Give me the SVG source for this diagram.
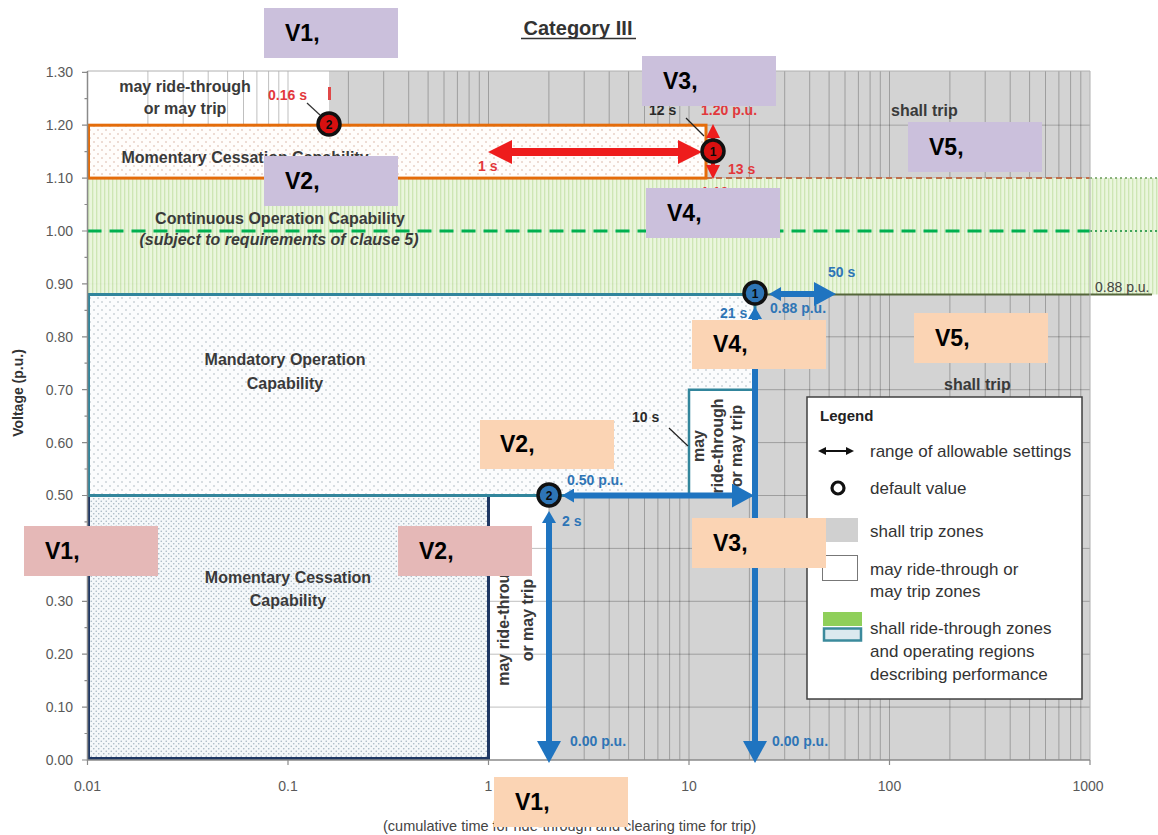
<svg xmlns="http://www.w3.org/2000/svg" width="1158" height="835" viewBox="0 0 1158 835">
<style>
text{font-family:"Liberation Sans",Arial,sans-serif}
.lbl{font-weight:bold;font-size:16px;fill:#3a3a3a}
.tick{font-size:14px;fill:#595959}
.blue{font-weight:bold;font-size:14px;fill:#2e75b6}
.red{font-weight:bold;font-size:14px;fill:#e2383c}
.blk{font-weight:bold;font-size:14px;fill:#2a2a2a}
.leg{font-size:17px;fill:#333}
.vb{font-weight:bold;font-size:23px;fill:#000}
.purple{fill:#cbc0dc}
.peach{fill:#fbd4b4}
.pink{fill:#e5b8b7}
.gray{fill:#d3d3d3}
.grid{fill:none;stroke:#000;stroke-opacity:.25;stroke-width:1}
.bluearrow{stroke:#1f74c0;stroke-width:6;fill:none}
.mk-b{fill:#2e75b6;stroke:#111;stroke-width:3.5}
.mk-r{fill:#d81010;stroke:#111;stroke-width:3.5}
.mknum{font-weight:bold;font-size:12px;fill:#0a0a0a;text-anchor:middle}
</style>
<defs>
<pattern id="pMO" width="8" height="8" patternUnits="userSpaceOnUse"><rect width="8" height="8" fill="#fbfcfd"/><circle cx="2" cy="2" r="0.8" fill="#a9b6bd"/><circle cx="6" cy="6" r="0.8" fill="#a9b6bd"/></pattern>
<pattern id="pMC" width="5" height="5" patternUnits="userSpaceOnUse"><rect width="5" height="5" fill="#f5f8fa"/><circle cx="1.25" cy="1.25" r="0.8" fill="#a6b6c2"/><circle cx="3.75" cy="3.75" r="0.8" fill="#a6b6c2"/></pattern>
<pattern id="pOr" width="8" height="8" patternUnits="userSpaceOnUse"><rect width="8" height="8" fill="#fffdfb"/><circle cx="2" cy="2" r="0.8" fill="#d6b2a4"/><circle cx="6" cy="6" r="0.8" fill="#d6b2a4"/></pattern>
<pattern id="pGr" width="4" height="4" patternUnits="userSpaceOnUse"><rect width="4" height="4" fill="#e8f5da"/><rect width="1.3" height="4" fill="#c9e4ae"/></pattern>
<marker id="ahB" viewBox="0 0 22 24" refX="3" refY="12" markerWidth="22" markerHeight="24" markerUnits="userSpaceOnUse" orient="auto-start-reverse"><path d="M0 0L22 12L0 24Z" fill="#1f74c0"/></marker>
<marker id="ahBs" viewBox="0 0 12 14" refX="2" refY="7" markerWidth="12" markerHeight="14" markerUnits="userSpaceOnUse" orient="auto-start-reverse"><path d="M0 0L12 7L0 14Z" fill="#1f74c0"/></marker>
<marker id="ahR" viewBox="0 0 24 24" refX="3" refY="12" markerWidth="24" markerHeight="24" markerUnits="userSpaceOnUse" orient="auto-start-reverse"><path d="M0 0L24 12L0 24Z" fill="#ee1c1c"/></marker>
<marker id="ahRs" viewBox="0 0 14 14" refX="2" refY="7" markerWidth="14" markerHeight="14" markerUnits="userSpaceOnUse" orient="auto-start-reverse"><path d="M0 0L14 7L0 14Z" fill="#ee1c1c"/></marker>
<marker id="ahK" viewBox="0 0 8 8" refX="1" refY="4" markerWidth="8" markerHeight="8" markerUnits="userSpaceOnUse" orient="auto-start-reverse"><path d="M0 0L8 4L0 8Z" fill="#111"/></marker>
</defs>
<rect width="1158" height="835" fill="#fff"/>

<g id="title"><text x="578" y="35" text-anchor="middle" font-size="20" font-weight="bold" fill="#333">Category III</text><line x1="521" y1="38.5" x2="636" y2="38.5" stroke="#333" stroke-width="1.5"/></g>

<g id="shall-trip-zones">
<rect class="gray" x="329" y="71" width="761" height="54.2"/>
<rect class="gray" x="706" y="125.2" width="384" height="52.9"/>
<rect class="gray" x="755" y="294.5" width="335" height="465.5"/>
<rect class="gray" x="549" y="495.5" width="206" height="264.5"/>
</g>

<g id="grid">
<path class="grid" d="M147.9 71V760M183.2 71V760M208.2 71V760M227.6 71V760M243.5 71V760M256.9 71V760M268.6 71V760M278.8 71V760M348.4 71V760M383.7 71V760M408.7 71V760M428.1 71V760M444 71V760M457.4 71V760M469.1 71V760M479.3 71V760M548.9 71V760M584.2 71V760M609.2 71V760M628.6 71V760M644.5 71V760M657.9 71V760M669.6 71V760M679.8 71V760M749.4 71V760M784.7 71V760M809.7 71V760M829.1 71V760M845 71V760M858.4 71V760M870.1 71V760M880.3 71V760M949.9 71V760M985.2 71V760M1010.2 71V760M1029.6 71V760M1045.5 71V760M1058.9 71V760M1070.6 71V760M1080.8 71V760"/>
<path class="grid" stroke-opacity=".4" d="M288 71V760M488.5 71V760M689 71V760M889.5 71V760"/>
<path class="grid" d="M87.5 707.1H1090M87.5 654.2H1090M87.5 601.3H1090M87.5 548.4H1090M87.5 495.5H1090M87.5 442.6H1090M87.5 389.7H1090M87.5 336.8H1090M87.5 283.9H1090M87.5 231H1090M87.5 178.1H1090M87.5 125.2H1090"/>
</g>

<g id="continuous-operation">
<rect x="87.5" y="178.1" width="1070.5" height="116.4" fill="url(#pGr)" opacity=".92"/>
<line x1="87.5" y1="231" x2="1090" y2="231" stroke="#00b050" stroke-width="3" stroke-dasharray="14 8"/>
<line x1="1090" y1="231" x2="1158" y2="231" stroke="#3ea35a" stroke-width="2" stroke-dasharray="2 3"/>
<line x1="706" y1="178.1" x2="1090" y2="178.1" stroke="#c0704d" stroke-width="2" stroke-dasharray="6 4"/>
<line x1="1090" y1="178.1" x2="1158" y2="178.1" stroke="#6a9a5a" stroke-width="1.5" stroke-dasharray="2 3"/>
<line x1="755" y1="294.5" x2="1152" y2="294.5" stroke="#55663a" stroke-width="2"/>
<text class="lbl" x="280" y="224" text-anchor="middle">Continuous Operation Capability</text>
<text class="lbl" x="279" y="245" text-anchor="middle" font-style="italic">(subject to requirements of clause 5)</text>
<text x="1095" y="292" font-size="14" fill="#444">0.88 p.u.</text>
</g>

<g id="momentary-cessation-high">
<rect x="88.5" y="125.2" width="617.5" height="52.9" fill="url(#pOr)" stroke="#e46c0a" stroke-width="3"/>
<text class="lbl" x="245" y="163" text-anchor="middle">Momentary Cessation Capability</text>
</g>

<g id="may-trip-high">
<text class="lbl" x="185" y="92" text-anchor="middle">may ride-through</text>
<text class="lbl" x="185" y="114" text-anchor="middle">or may trip</text>
</g>

<g id="shall-trip-labels">
<text class="lbl" x="891" y="116">shall trip</text>
<text class="lbl" x="944" y="390">shall trip</text>
</g>

<g id="mandatory-operation">
<rect x="88.5" y="294.5" width="666.5" height="201" fill="url(#pMO)" stroke="#31859c" stroke-width="3"/>
<text class="lbl" x="285" y="365" text-anchor="middle">Mandatory Operation</text>
<text class="lbl" x="285" y="389" text-anchor="middle">Capability</text>
</g>

<g id="may-trip-box">
<rect x="689" y="389.7" width="66" height="105.8" fill="#fff"/>
<path d="M689 495.5V389.7H755" fill="none" stroke="#31859c" stroke-width="2.5"/>
<text class="lbl" transform="translate(703.5 446) rotate(-90)" text-anchor="middle">may</text>
<text class="lbl" transform="translate(722.5 446) rotate(-90)" text-anchor="middle">ride-through</text>
<text class="lbl" transform="translate(741.5 446) rotate(-90)" text-anchor="middle">or may trip</text>
<text class="blk" x="632" y="422" font-size="15">10 s</text>
<line x1="669" y1="428" x2="688" y2="446" stroke="#222" stroke-width="1.2"/>
</g>

<g id="momentary-cessation-low">
<path d="M88.5 495.5V758.5H488.5V495.5" fill="url(#pMC)" stroke="#1f3864" stroke-width="3"/>
<line x1="87.5" y1="495.5" x2="549" y2="495.5" stroke="#31859c" stroke-width="3"/>
<text class="lbl" x="288" y="583" text-anchor="middle">Momentary Cessation</text>
<text class="lbl" x="288" y="606" text-anchor="middle">Capability</text>
</g>

<g id="may-trip-low">
<text class="lbl" transform="translate(509 620) rotate(-90)" text-anchor="middle">may ride-through</text>
<text class="lbl" transform="translate(533 620) rotate(-90)" text-anchor="middle">or may trip</text>
</g>

<g id="axes">
<path d="M1090 71V760M87.5 71H1090" stroke="#b0b0b0" stroke-width="1" fill="none"/>
<path d="M87.5 71V760H1090" stroke="#8a8a8a" stroke-width="1.5" fill="none"/>
<path d="M82 72.3H87.5M82 125.2H87.5M82 178.1H87.5M82 231H87.5M82 283.9H87.5M82 336.8H87.5M82 389.7H87.5M82 442.6H87.5M82 495.5H87.5M82 548.4H87.5M82 601.3H87.5M82 654.2H87.5M82 707.1H87.5M82 760H87.5M84.5 98.7H87.5M84.5 151.6H87.5M84.5 204.5H87.5M84.5 257.4H87.5M84.5 310.3H87.5M84.5 363.2H87.5M84.5 416.1H87.5M84.5 469H87.5M84.5 521.9H87.5M84.5 574.8H87.5M84.5 627.7H87.5M84.5 680.6H87.5M84.5 733.5H87.5M87.5 760V765M288 760V765M488.5 760V765M689 760V765M889.5 760V765M1090 760V765" stroke="#8a8a8a" stroke-width="1.2" fill="none"/>
<g class="tick" text-anchor="end">
<text x="73" y="77">1.30</text><text x="73" y="130">1.20</text><text x="73" y="183">1.10</text><text x="73" y="236">1.00</text><text x="73" y="289">0.90</text><text x="73" y="342">0.80</text><text x="73" y="395">0.70</text><text x="73" y="448">0.60</text><text x="73" y="500">0.50</text><text x="73" y="553">0.40</text><text x="73" y="606">0.30</text><text x="73" y="659">0.20</text><text x="73" y="712">0.10</text><text x="73" y="765">0.00</text>
</g>
<g class="tick" text-anchor="middle">
<text x="87.5" y="791">0.01</text><text x="288" y="791">0.1</text><text x="488.5" y="791">1</text><text x="689" y="791">10</text><text x="889.5" y="791">100</text><text x="1088" y="791">1000</text>
</g>
<text x="383" y="831" font-size="14.5" fill="#444">(cumulative time for ride-through and clearing time for trip)</text>
<text transform="translate(23 393) rotate(-90)" text-anchor="middle" font-size="14" font-weight="bold" fill="#333">Voltage (p.u.)</text>
</g>

<g id="connectors">
<line x1="509" y1="152" x2="681" y2="152" stroke="#ee1c1c" stroke-width="8" marker-start="url(#ahR)" marker-end="url(#ahR)"/>
<line x1="713" y1="136" x2="713" y2="167" stroke="#ee1c1c" stroke-width="4" marker-start="url(#ahRs)" marker-end="url(#ahRs)"/>
<line x1="329.5" y1="87" x2="329.5" y2="100" stroke="#e04848" stroke-width="3"/>
<line x1="307" y1="103" x2="320" y2="115" stroke="#333" stroke-width="1.2"/>
<line x1="686" y1="118" x2="704" y2="136" stroke="#222" stroke-width="1.2"/>
<line class="bluearrow" x1="572" y1="495.5" x2="735" y2="495.5" marker-start="url(#ahBs)" marker-end="url(#ahB)"/>
<line class="bluearrow" x1="549" y1="521" x2="549" y2="744" marker-start="url(#ahBs)" marker-end="url(#ahB)"/>
<line class="bluearrow" x1="779" y1="294" x2="817" y2="294" marker-start="url(#ahBs)" marker-end="url(#ahB)"/>
<line class="bluearrow" x1="755" y1="317" x2="755" y2="744" marker-start="url(#ahBs)" marker-end="url(#ahB)"/>
</g>

<g id="markers">
<g id="marker-red-2"><circle class="mk-r" cx="329" cy="124" r="11"/><text class="mknum" x="329" y="128.5">2</text></g>
<g id="marker-red-1"><circle class="mk-r" cx="713" cy="151" r="11"/><text class="mknum" x="713" y="155.5">1</text></g>
<g id="marker-blue-2"><circle class="mk-b" cx="549" cy="495" r="11"/><text class="mknum" x="549" y="499.5">2</text></g>
<g id="marker-blue-1"><circle class="mk-b" cx="755" cy="293" r="11"/><text class="mknum" x="755" y="297.5">1</text></g>
</g>

<g id="value-labels">
<text class="red" x="268" y="100">0.16 s</text>
<text class="red" x="478" y="171">1 s</text>
<text class="red" x="728" y="174">13 s</text>
<text class="red" x="701" y="115">1.20 p.u.</text>
<text class="red" x="701" y="197">1.10 p.u.</text>
<text class="blk" x="649" y="115">12 s</text>
<text class="blue" x="828" y="277">50 s</text>
<text class="blue" x="770" y="313">0.88 p.u.</text>
<text class="blue" x="720" y="318">21 s</text>
<text class="blue" x="567" y="485">0.50 p.u.</text>
<text class="blue" x="562" y="526">2 s</text>
<text class="blue" x="708" y="528">21 s</text>
<text class="blue" x="570" y="746">0.00 p.u.</text>
<text class="blue" x="772" y="746">0.00 p.u.</text>
</g>

<g id="legend">
<rect x="807" y="397" width="275" height="302" fill="#fff" stroke="#404040" stroke-width="1.5"/>
<text x="820" y="421" font-size="15" font-weight="bold" fill="#222">Legend</text>
<line x1="825" y1="451" x2="847" y2="451" stroke="#111" stroke-width="2" marker-start="url(#ahK)" marker-end="url(#ahK)"/>
<text class="leg" x="870" y="457">range of allowable settings</text>
<circle cx="838" cy="488" r="6" fill="none" stroke="#111" stroke-width="3.2"/>
<text class="leg" x="870" y="494">default value</text>
<rect x="823" y="518" width="35" height="24" fill="#d0d0d0"/>
<text class="leg" x="870" y="537">shall trip zones</text>
<rect x="822.5" y="555.5" width="35" height="25" fill="#fff" stroke="#777"/>
<text class="leg" x="870" y="575">may ride-through or</text>
<text class="leg" x="870" y="597">may trip zones</text>
<rect x="823" y="612" width="39" height="14" fill="#8fcf5a"/>
<rect x="824" y="628.5" width="37" height="12" fill="#dbe9ef" stroke="#3b8a9c" stroke-width="2.5"/>
<text class="leg" x="870" y="634">shall ride-through zones</text>
<text class="leg" x="870" y="657">and operating regions</text>
<text class="leg" x="870" y="680">describing performance</text>
</g>

<g id="box-p-v1"><rect class="purple" x="264" y="8" width="134" height="50"/><text class="vb" x="285" y="41">V1,</text></g>
<g id="box-p-v2"><rect class="purple" x="264" y="156" width="134" height="50"/><text class="vb" x="285" y="189">V2,</text></g>
<g id="box-p-v3"><rect class="purple" x="642" y="56" width="134" height="50"/><text class="vb" x="663" y="89">V3,</text></g>
<g id="box-p-v4"><rect class="purple" x="646" y="188" width="134" height="50"/><text class="vb" x="667" y="221">V4,</text></g>
<g id="box-p-v5"><rect class="purple" x="908" y="122" width="134" height="50"/><text class="vb" x="929" y="155">V5,</text></g>
<g id="box-o-v4"><rect class="peach" x="692" y="320" width="134" height="49"/><text class="vb" x="713" y="352">V4,</text></g>
<g id="box-o-v5"><rect class="peach" x="914" y="313" width="134" height="50"/><text class="vb" x="935" y="346">V5,</text></g>
<g id="box-o-v2"><rect class="peach" x="480" y="420" width="134" height="49"/><text class="vb" x="500" y="452">V2,</text></g>
<g id="box-o-v3"><rect class="peach" x="692" y="518" width="134" height="50"/><text class="vb" x="713" y="551">V3,</text></g>
<g id="box-o-v1"><rect class="peach" x="494" y="777" width="134" height="50"/><text class="vb" x="515" y="810">V1,</text></g>
<g id="box-r-v1"><rect class="pink" x="24" y="526" width="134" height="50"/><text class="vb" x="45" y="559">V1,</text></g>
<g id="box-r-v2"><rect class="pink" x="398" y="526" width="134" height="50"/><text class="vb" x="419" y="559">V2,</text></g>
</svg>
